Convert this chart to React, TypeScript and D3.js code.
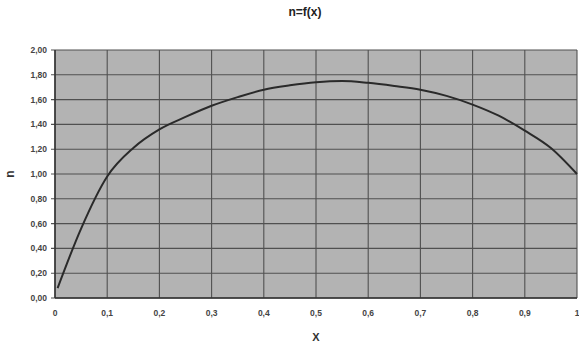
import React from "react";
import * as d3 from "d3";

const xValues = [0.005, 0.05, 0.1, 0.15, 0.2, 0.25, 0.3, 0.35, 0.4, 0.45, 0.5, 0.55, 0.6, 0.65, 0.7, 0.75, 0.8, 0.85, 0.9, 0.95, 1.0];
const nValues = [0.08, 0.56, 0.98, 1.21, 1.36, 1.46, 1.55, 1.62, 1.68, 1.715, 1.74, 1.75, 1.735, 1.71, 1.68, 1.63, 1.56, 1.47, 1.35, 1.21, 1.0];
const xTicks = [0, 0.1, 0.2, 0.3, 0.4, 0.5, 0.6, 0.7, 0.8, 0.9, 1];
const yTicks = [0, 0.2, 0.4, 0.6, 0.8, 1.0, 1.2, 1.4, 1.6, 1.8, 2.0];
const title = "n=f(x)";
const xLabel = "X";
const yLabel = "n";

const W = 579, H = 344;
const m = { left: 55, top: 50, right: 2, bottom: 46 };

export default function App() {
  const x = d3.scaleLinear().domain([0, 1]).range([m.left, W - m.right]);
  const y = d3.scaleLinear().domain([0, 2]).range([H - m.bottom, m.top]);
  const line = d3.line<number>().x((_, i) => x(xValues[i])).y((d) => y(d)).curve(d3.curveMonotoneX);
  const font = "Arial, 'Liberation Sans', sans-serif";
  const fmt = (v: number) => v.toFixed(2).replace(".", ",");
  const fmtX = (v: number) => (v === 0 || v === 1 ? String(v) : String(v.toFixed(1)).replace(".", ","));
  return (
    <svg width={W} height={H} style={{ position: "absolute", left: 0, top: 0, background: "#fff" }} fontFamily={font}>
      <rect x={m.left} y={m.top} width={W - m.left - m.right} height={H - m.top - m.bottom} fill="#b3b3b3" />
      {xTicks.map((t) => (
        <line key={"gx" + t} x1={x(t)} x2={x(t)} y1={m.top} y2={H - m.bottom} stroke="#505050" strokeWidth={1.1} />
      ))}
      {yTicks.map((t) => (
        <line key={"gy" + t} x1={m.left - 4} x2={W - m.right} y1={y(t)} y2={y(t)} stroke="#505050" strokeWidth={1.1} />
      ))}
      <line x1={m.left} x2={m.left} y1={m.top} y2={H - m.bottom} stroke="#333" strokeWidth={1.5} />
      <line x1={m.left} x2={W - m.right} y1={H - m.bottom} y2={H - m.bottom} stroke="#333" strokeWidth={1.5} />
      <path d={line(nValues) || ""} fill="none" stroke="#2a2a2a" strokeWidth={2} />
      {yTicks.map((t) => (
        <text key={"ly" + t} x={47} y={y(t) + 3} textAnchor="end" fontSize={8.5} fontWeight="bold" fill="#444">
          {fmt(t)}
        </text>
      ))}
      {xTicks.map((t) => (
        <text key={"lx" + t} x={x(t)} y={316} textAnchor="middle" fontSize={8.5} fontWeight="bold" fill="#444">
          {fmtX(t)}
        </text>
      ))}
      <text x={305} y={16} textAnchor="middle" fontSize={12} fontWeight="bold" fill="#222">{title}</text>
      <text x={316} y={341} textAnchor="middle" fontSize={11} fontWeight="bold" fill="#333">{xLabel}</text>
      <text transform={`translate(14,${y(1)}) rotate(-90)`} textAnchor="middle" fontSize={12} fontWeight="bold" fill="#333">{yLabel}</text>
    </svg>
  );
}
